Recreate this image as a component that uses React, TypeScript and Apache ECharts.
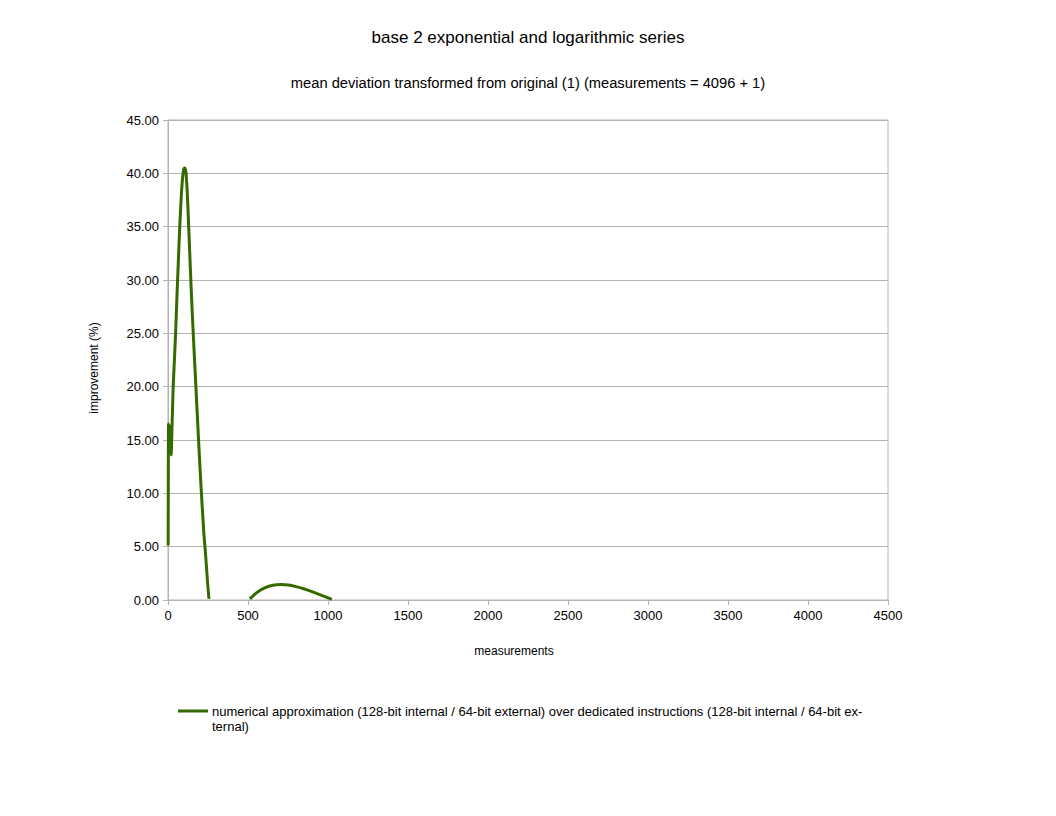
import React, { useEffect, useRef } from "react";
import * as echarts from "echarts";

const FONT = "Liberation Sans, Arial, sans-serif";

const titleText = "base 2 exponential and logarithmic series";
const subtitleText = "mean deviation transformed from original (1) (measurements = 4096 + 1)";
const xAxisName = "measurements";
const yAxisName = "improvement (%)";
const seriesName =
  "numerical approximation (128-bit internal / 64-bit external) over dedicated instructions (128-bit internal / 64-bit external)";
const legendLines = [
  "numerical approximation (128-bit internal / 64-bit external) over dedicated instructions (128-bit internal / 64-bit ex-",
  "ternal)",
];

// first segment (measurements 1..256)
const measurementsA = [
  1, 2, 3, 4, 6, 8, 10, 12, 16, 20, 24, 32, 40, 48, 56, 64, 72, 80, 88, 96, 104, 112,
  120, 128, 136, 144, 152, 160, 176, 192, 208, 224, 232, 240, 248, 256,
];
const improvementA = [
  5.1, 12.0, 16.5, 15.2, 16.4, 14.1, 16.0, 14.3, 16.3, 13.6, 15.6, 19.8, 22.5, 25.2,
  28.5, 31.5, 34.5, 37.0, 39.0, 40.2, 40.5, 40.1, 38.3, 35.5, 32.5, 29.5, 26.8, 24.3,
  19.5, 14.7, 10.2, 6.3, 4.8, 3.2, 1.5, 0.1,
];

// second segment (measurements 512..1024)
const measurementsB = [512, 560, 608, 656, 704, 752, 800, 848, 896, 944, 992, 1024];
const improvementB = [0.1, 0.75, 1.15, 1.38, 1.45, 1.4, 1.25, 1.05, 0.8, 0.52, 0.25, 0.05];

const xTicks = { min: 0, max: 4500, interval: 500 };
const yTicks = { min: 0, max: 45, interval: 5 };

const LINE_COLOR = "#356a00";
const GRID_COLOR = "#b3b3b3";

export default function App() {
  const ref = useRef<HTMLDivElement>(null);

  useEffect(() => {
    if (!ref.current) return;
    const chart = echarts.init(ref.current, null, { renderer: "svg" });

    const data: any[] = [];
    measurementsA.forEach((m, i) => data.push([m, improvementA[i]]));
    data.push([384, "-"]);
    measurementsB.forEach((m, i) => data.push([m, improvementB[i]]));

    chart.setOption({
      animation: false,
      backgroundColor: "#ffffff",
      textStyle: { fontFamily: FONT },
      title: [
        {
          text: titleText,
          left: "center",
          top: 24,
          textStyle: { fontSize: 17, fontWeight: "normal", color: "#000", fontFamily: FONT },
        },
        {
          text: subtitleText,
          left: "center",
          top: 70,
          textStyle: { fontSize: 14.7, fontWeight: "normal", color: "#000", fontFamily: FONT },
        },
      ],
      grid: {
        left: 168,
        right: 168,
        top: 120,
        bottom: 216,
        show: true,
        borderColor: GRID_COLOR,
        borderWidth: 1,
        containLabel: false,
      },
      xAxis: {
        type: "value",
        min: xTicks.min,
        max: xTicks.max,
        interval: xTicks.interval,
        name: xAxisName,
        nameLocation: "middle",
        nameGap: 45,
        nameTextStyle: {
          fontSize: 12,
          color: "#000",
          fontFamily: FONT,
          padding: [0, 28, 0, 0],
        },
        axisLine: { show: true, lineStyle: { color: GRID_COLOR } },
        axisTick: { show: true, length: 5, lineStyle: { color: GRID_COLOR } },
        axisLabel: {
          fontSize: 13,
          color: "#000",
          margin: 9,
          fontFamily: FONT,
          formatter: (v: number) => String(v),
        },
        splitLine: { show: false },
      },
      yAxis: {
        type: "value",
        min: yTicks.min,
        max: yTicks.max,
        interval: yTicks.interval,
        name: yAxisName,
        nameLocation: "middle",
        nameGap: 68,
        nameRotate: 90,
        nameTextStyle: {
          fontSize: 12,
          color: "#000",
          fontFamily: FONT,
          padding: [0, 16, 0, 0],
        },
        axisLine: { show: true, lineStyle: { color: GRID_COLOR } },
        axisTick: { show: true, length: 5, lineStyle: { color: GRID_COLOR } },
        axisLabel: {
          fontSize: 13,
          color: "#000",
          margin: 9,
          fontFamily: FONT,
          formatter: (v: number) => v.toFixed(2),
        },
        splitLine: { show: true, lineStyle: { color: GRID_COLOR } },
      },
      series: [
        {
          name: seriesName,
          type: "line",
          data,
          showSymbol: false,
          smooth: 0.3,
          connectNulls: false,
          lineStyle: { color: LINE_COLOR, width: 3 },
          itemStyle: { color: LINE_COLOR },
        },
      ],
      graphic: [
        {
          type: "line",
          shape: { x1: 178, y1: 711, x2: 208, y2: 711 },
          style: { stroke: LINE_COLOR, lineWidth: 3 },
        },
        {
          type: "text",
          x: 212,
          y: 704,
          style: {
            text: legendLines.join("\n"),
            fontSize: 13,
            lineHeight: 15,
            fill: "#000",
            fontFamily: FONT,
            verticalAlign: "top",
            align: "left",
          },
        },
      ],
    });

    return () => chart.dispose();
  }, []);

  return (
    <div
      ref={ref}
      style={{ position: "fixed", left: 0, top: 0, width: 1056, height: 816 }}
    />
  );
}
